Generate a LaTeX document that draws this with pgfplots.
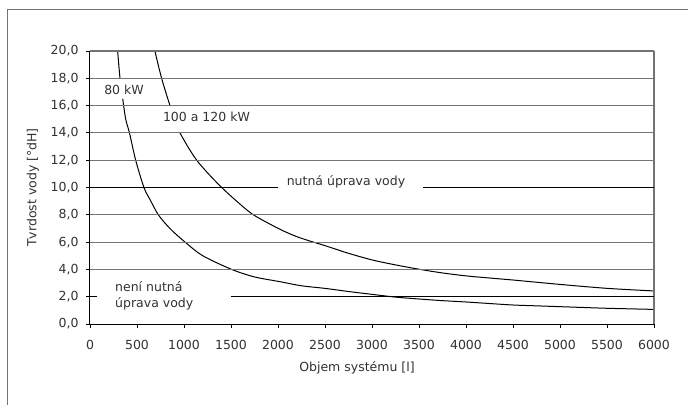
\documentclass[border=0pt]{standalone}
\usepackage{fontspec}
\setmainfont{DejaVu Sans}
\usepackage{pgfplots}
\pgfplotsset{compat=1.18}
\definecolor{gridgray}{RGB}{115,115,115}
\definecolor{txt}{RGB}{50,50,50}
\begin{document}
\begin{tikzpicture}[font=\fontsize{12.5bp}{16bp}\selectfont]
\path[use as bounding box] (-90bp,-81bp) rectangle (598bp,324bp);
\draw[gridgray, line width=1bp] (-82.5bp,-90bp) -- (-82.5bp,314bp) -- (605bp,314bp);
\begin{axis}[
  at={(0,0)}, anchor=south west, scale only axis,
  width=564bp, height=273bp,
  xmin=0, xmax=6000, ymin=0, ymax=20,
  clip=false,
  axis x line*=bottom, axis y line*=left,
  axis line style={-, black, line width=1bp},
  xtick={0,500,...,6000}, ytick={0,2,...,20},
  tick align=outside, major tick length=4bp,
  tick style={black, line width=0.9bp},
  /pgf/number format/assume math mode=true,
  every tick label/.append style={font=\fontsize{12.5bp}{16bp}\selectfont, text=txt},
  xticklabel style={/pgf/number format/1000 sep={}, yshift=-9bp},
  yticklabel style={/pgf/number format/fixed, /pgf/number format/fixed zerofill,
    /pgf/number format/precision=1, /pgf/number format/use comma, xshift=-4bp},
  xlabel={Objem systému [l]}, ylabel={Tvrdost vody [°dH]},
  every axis label/.append style={font=\fontsize{12.5bp}{16bp}\selectfont, text=txt},
  xlabel style={at={(axis description cs:0.4734,-0.1612)}, anchor=center},
  ylabel style={at={(axis description cs:-0.1011,0.5)}, anchor=center},
]
% 80 kW
\addplot[black, line width=1bp, smooth] coordinates {
 (294,20) (306,19) (319,18)};
\addplot[black, line width=1bp, smooth] coordinates {
 (348,16.5) (380,15) (420,14) (486,12) (574,10) (640,9.1) (727,8) (850,7)
 (1011,6) (1200,5) (1507,4) (1750,3.45) (2021,3.1) (2250,2.8) (2500,2.61)
 (2750,2.38) (3003,2.17) (3250,1.97) (3503,1.83) (3750,1.71) (4007,1.61)
 (4250,1.5) (4504,1.39) (4750,1.33) (5000,1.27) (5250,1.21) (5503,1.15)
 (5750,1.11) (6000,1.07)};
% 100 a 120 kW
\addplot[black, line width=1bp, smooth] coordinates {
 (691,20) (725,19) (762,18) (805,17) (851,16)};
\addplot[black, line width=1bp, smooth] coordinates {
 (957,14) (1040,13) (1135,12) (1260,11) (1401,10) (1560,9) (1738,8)
 (2021,6.94) (2200,6.4) (2376,6.0) (2500,5.74) (2750,5.18) (3003,4.69)
 (3250,4.33) (3511,4.0) (3750,3.74) (4007,3.52) (4250,3.37) (4504,3.22)
 (4750,3.06) (5000,2.9) (5250,2.75) (5503,2.61) (5750,2.51) (6000,2.42)};
% grid
\pgfplotsinvokeforeach{4,6,8,12,14,16,18,20}{
  \draw[gridgray, line width=1.1bp] (axis cs:0,#1) -- (axis cs:6000,#1);
}
\draw[gridgray, line width=1.1bp] (axis cs:6000,0) -- (axis cs:6000,20);
\draw[black, line width=1bp] (axis cs:0,10) -- (axis cs:2000,10);
\draw[black, line width=1bp] (axis cs:3543,10) -- (axis cs:6000,10);
\draw[black, line width=1bp] (axis cs:0,2) -- (axis cs:70,2);
\draw[black, line width=1bp] (axis cs:1500,2) -- (axis cs:6000,2);
% labels
\node[text=txt] at (axis cs:362,17.15) {80 kW};
\node[text=txt] at (axis cs:1239,15.2) {100 a 120 kW};
\node[text=txt, anchor=base] at (axis cs:2723,10.15) {nutná úprava vody};
\node[text=txt, anchor=west, align=left, inner sep=0pt] at (axis cs:266,2.05) {není nutná\\úprava vody};
\end{axis}
\end{tikzpicture}
\end{document}
